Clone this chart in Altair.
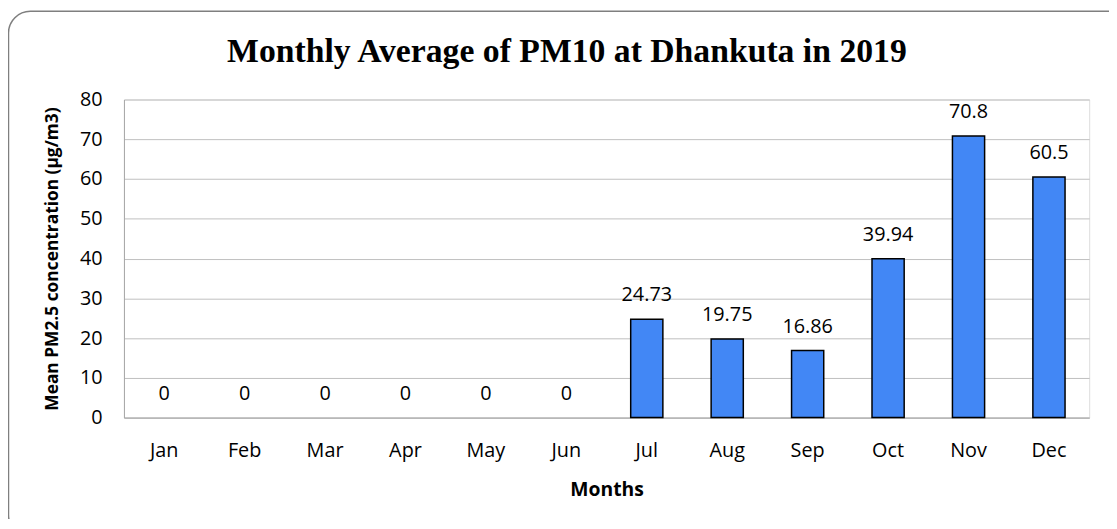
import altair as alt
import pandas as pd

months = ["Jan", "Feb", "Mar", "Apr", "May", "Jun", "Jul", "Aug", "Sep", "Oct", "Nov", "Dec"]
values = [0, 0, 0, 0, 0, 0, 24.73, 19.75, 16.86, 39.94, 70.8, 60.5]
labels = ["0", "0", "0", "0", "0", "0", "24.73", "19.75", "16.86", "39.94", "70.8", "60.5"]
title_text = ["Monthly Average of PM10 at Dhankuta in 2019"]

df = pd.DataFrame({"Month": months, "Value": values, "Label": labels})

W, H = 974, 321
PADL, PADT = 117, 90

x = alt.X("Month:N", sort=months, title="Months",
          scale=alt.Scale(paddingInner=0.6, paddingOuter=0.3),
          axis=alt.Axis(labelAngle=0, labelFont="Open Sans", labelFontSize=20, labelColor="#000",
                        labelPadding=23, ticks=False, domainColor="#a6a6a6",
                        titleFont="Open Sans", titleFontSize=19.5, titleFontWeight="bold",
                        titleColor="#000", titlePadding=21))
y = alt.Y("Value:Q", title="Mean PM2.5 concentration (µg/m3)",
          scale=alt.Scale(domain=[0, 80], nice=False),
          axis=alt.Axis(values=list(range(0, 81, 10)), labelFont="Open Sans", labelFontSize=20,
                        labelColor="#000", labelPadding=22, ticks=False, domainColor="#a6a6a6",
                        gridColor="#bfbfbf", titleFont="Open Sans", titleFontSize=17.5,
                        titleFontWeight="bold", titleColor="#000", titlePadding=18))

bars = alt.Chart(df).mark_bar(color="#4287f5", stroke="#000", strokeWidth=1.5).encode(
    x=x, y=y,
    strokeOpacity=alt.condition(alt.datum.Value > 0, alt.value(1), alt.value(0)))
text = alt.Chart(df).mark_text(font="Open Sans", fontSize=20, color="#000", baseline="middle", dy=-24).encode(
    x=alt.X("Month:N", sort=months), y="Value:Q", text="Label:N")

border = alt.Chart(alt.Data(values=[{}])).mark_rect(
    fill=None, stroke="#7f7f7f", strokeWidth=1.5, cornerRadius=22, clip=False).encode(
    x=alt.value(-PADL + 0.5), x2=alt.value(W + 40),
    y=alt.value(-PADT + 1), y2=alt.value(H + 120))

title = alt.Chart(alt.Data(values=[{"t": title_text[0]}])).mark_text(
    font="Liberation Serif", fontSize=34, fontWeight="bold", color="#000",
    baseline="middle", align="center").encode(
    x=alt.value(447), y=alt.value(-48), text="t:N")

chart = alt.layer(border, bars, text, title).properties(
    width=W, height=H,
    autosize=alt.AutoSizeParams(type="none"),
    padding={"left": PADL, "top": PADT, "right": 20, "bottom": 100},
).configure_view(stroke=None).configure(background="white")

chart.save("out.html", embed_options={"renderer": "svg", "actions": False})
